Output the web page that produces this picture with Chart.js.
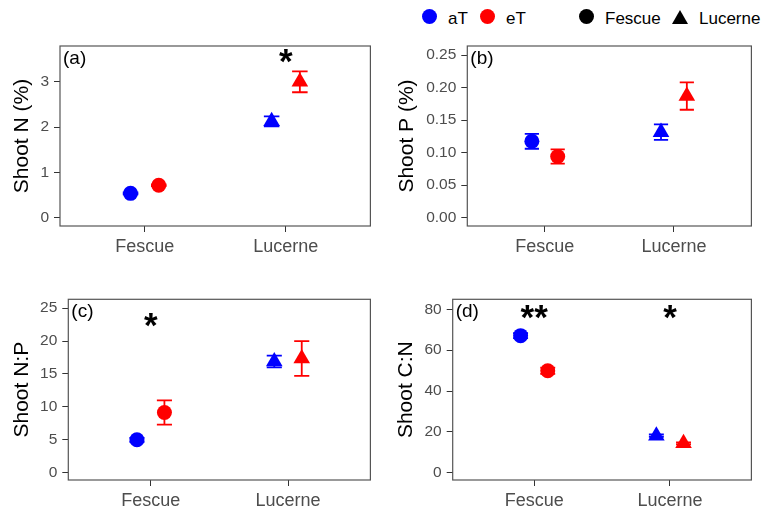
<!DOCTYPE html>
<html><head><meta charset="utf-8">
<script src="https://cdn.jsdelivr.net/npm/chart.js@4.4.1/dist/chart.umd.min.js"></script>
<style>
html,body{margin:0;padding:0;background:#fff;}
#wrap{position:relative;width:761px;height:510px;overflow:hidden;font-family:"Liberation Sans",Arial,sans-serif;}
.lg{position:absolute;font-size:17px;line-height:17px;color:#000;top:9.6px;white-space:nowrap;}
.dot{position:absolute;width:15px;height:15px;border-radius:50%;top:9.2px;}
.tri{position:absolute;width:0;height:0;border-left:8.3px solid transparent;border-right:8.3px solid transparent;border-bottom:14.5px solid #000;top:9.5px;}
</style></head>
<body>
<div id="wrap">
  <div class="dot" style="left:422px;background:#0000ff"></div><span class="lg" style="left:448px">aT</span>
  <div class="dot" style="left:480px;background:#ff0000"></div><span class="lg" style="left:506px">eT</span>
  <div class="dot" style="left:579px;background:#000"></div><span class="lg" style="left:605px">Fescue</span>
  <div class="tri" style="left:672px"></div><span class="lg" style="left:699px">Lucerne</span>
</div>
<script>
// ---------- data ----------
const categories = ['Fescue', 'Lucerne'];
const groups = ['aT', 'eT'];

const shootN_aT = [0.54, 2.13];
const shootN_eT = [0.72, 3.00];
const shootN_aT_se = [0.02, 0.11];
const shootN_eT_se = [0.02, 0.23];
const shootN_ticks = [0, 1, 2, 3];
const shootN_sig = ['', '*'];
const shootN_sigY = 3.57;

const shootP_aT = [0.1175, 0.1316];
const shootP_eT = [0.094, 0.187];
const shootP_aT_se = [0.0115, 0.012];
const shootP_eT_se = [0.011, 0.021];
const shootP_ticks = [0, 0.05, 0.10, 0.15, 0.20, 0.25];
const shootP_sig = ['', ''];
const shootP_sigY = 0.25;

const shootNP_aT = [5.0, 16.9];
const shootNP_eT = [9.15, 17.35];
const shootNP_aT_se = [0.3, 0.9];
const shootNP_eT_se = [1.85, 2.65];
const shootNP_ticks = [0, 5, 10, 15, 20, 25];
const shootNP_sig = ['*', ''];
const shootNP_sigY = 23.2;

const shootCN_aT = [67.1, 18.1];
const shootCN_eT = [49.9, 14.4];
const shootCN_aT_se = [1.2, 0.6];
const shootCN_eT_se = [1.5, 0.5];
const shootCN_ticks = [0, 20, 40, 60, 80];
const shootCN_sig = ['**', '*'];
const shootCN_sigY = 78.8;

// ---------- drawing ----------
const FONT = '"Liberation Sans", Arial, sans-serif';
const COLORS = {aT: '#0000ff', eT: '#ff0000'};
const DODGE = {aT: -0.1, eT: 0.1};

function panel(p) {
  const cv = document.createElement('canvas');
  cv.width = p.w; cv.height = p.h;
  cv.style.cssText = `position:absolute;left:${p.left}px;top:${p.top}px;width:${p.w}px;height:${p.h}px;`;
  document.getElementById('wrap').appendChild(cv);

  const mk = (g, vals, se) => ({
    label: g,
    data: vals.map((v, i) => ({x: i + 1 + DODGE[g], y: v})),
    err: se,
    pointStyle: ['circle', 'triangle'],
    pointRadius: [7.5, 9.6],
    pointBackgroundColor: COLORS[g],
    pointBorderColor: COLORS[g],
    pointBorderWidth: 0,
    borderColor: COLORS[g],
    showLine: false
  });

  const plug = {
    id: 'extras' + p.tag,
    beforeDatasetsDraw(chart) {
      const {ctx, scales: {x, y}} = chart;
      chart.data.datasets.forEach(ds => {
        ds.data.forEach((pt, i) => {
          const e = ds.err[i];
          const px = x.getPixelForValue(pt.x);
          const hw = x.getPixelForValue(pt.x + 0.055) - px;
          const y1 = y.getPixelForValue(pt.y + e), y2 = y.getPixelForValue(pt.y - e);
          ctx.save();
          ctx.strokeStyle = ds.borderColor; ctx.lineWidth = 1.8;
          ctx.beginPath();
          ctx.moveTo(px, y1); ctx.lineTo(px, y2);
          ctx.moveTo(px - hw, y1); ctx.lineTo(px + hw, y1);
          ctx.moveTo(px - hw, y2); ctx.lineTo(px + hw, y2);
          ctx.stroke();
          ctx.restore();
        });
      });
    },
    afterDatasetsDraw(chart) {
      const {ctx, chartArea: a, scales: {x, y}} = chart;
      ctx.save();
      ctx.strokeStyle = '#555'; ctx.lineWidth = 1.2;
      ctx.strokeRect(a.left, a.top, a.right - a.left, a.bottom - a.top);
      ctx.fillStyle = '#000';
      ctx.font = '19px ' + FONT;
      ctx.textAlign = 'left'; ctx.textBaseline = 'top';
      ctx.fillText(p.tag, a.left + 3, a.top + 3);
      // significance stars
      ctx.font = 'bold 35px ' + FONT;
      ctx.textAlign = 'center'; ctx.textBaseline = 'alphabetic';
      p.sig.forEach((s, i) => {
        if (!s) return;
        const m = ctx.measureText(s);
        const cx = x.getPixelForValue(i + 1), cy = y.getPixelForValue(p.sigY);
        const base = cy + (m.actualBoundingBoxAscent - m.actualBoundingBoxDescent) / 2;
        ctx.fillText(s, cx, base);
      });
      ctx.restore();
    }
  };

  const gridOpts = {drawOnChartArea: false, drawTicks: true, tickLength: 6, color: '#333', lineWidth: 1};
  new Chart(cv, {
    type: 'scatter',
    data: {datasets: [mk('aT', p.aT, p.aTse), mk('eT', p.eT, p.eTse)]},
    options: {
      responsive: false, animation: false, devicePixelRatio: 1, events: [],
      layout: {padding: {top: p.padTop, right: p.padRight, left: 0, bottom: 0}},
      plugins: {legend: {display: false}, tooltip: {enabled: false}},
      scales: {
        x: {
          type: 'linear', min: 0.4, max: 2.6,
          afterBuildTicks: s => { s.ticks = categories.map((c, i) => ({value: i + 1})); },
          afterFit: s => { s.height = p.xh; },
          ticks: {callback: v => categories[Math.round(v) - 1], font: {size: 18, family: FONT}, color: '#4d4d4d', padding: 4, maxRotation: 0, autoSkip: false},
          grid: gridOpts, border: {display: false}
        },
        y: {
          min: p.ymin, max: p.ymax,
          afterBuildTicks: s => { s.ticks = p.ticks.map(v => ({value: v})); },
          afterFit: s => { s.width = p.yw; },
          ticks: {callback: v => p.fmt(v), font: {size: 15.5, family: FONT}, color: '#4d4d4d', padding: 5, autoSkip: false},
          grid: gridOpts, border: {display: false},
          title: {display: true, text: p.title, font: {size: 21, family: FONT}, color: '#000', padding: {top: p.titlePad, bottom: 0}}
        }
      }
    },
    plugins: [plug]
  });
}

const intFmt = v => String(Math.round(v));
panel({tag: '(a)', left: 0, top: 30, w: 380, h: 230, padTop: 16, padRight: 2, xh: 34, yw: 60,
  aT: shootN_aT, eT: shootN_eT, aTse: shootN_aT_se, eTse: shootN_eT_se, ticks: shootN_ticks,
  ymin: -0.18, ymax: 3.79, fmt: intFmt, title: 'Shoot N (%)', titlePad: 10, sig: shootN_sig, sigY: shootN_sigY});
panel({tag: '(b)', left: 380, top: 30, w: 381, h: 230, padTop: 16, padRight: 2.7, xh: 34, yw: 87.3,
  aT: shootP_aT, eT: shootP_eT, aTse: shootP_aT_se, eTse: shootP_eT_se, ticks: shootP_ticks,
  ymin: -0.0128, ymax: 0.264, fmt: v => v.toFixed(2), title: 'Shoot P (%)', titlePad: 15, sig: shootP_sig, sigY: shootP_sigY});
panel({tag: '(c)', left: 0, top: 280, w: 380, h: 230, padTop: 19.3, padRight: 2, xh: 30, yw: 68.3,
  aT: shootNP_aT, eT: shootNP_eT, aTse: shootNP_aT_se, eTse: shootNP_eT_se, ticks: shootNP_ticks,
  ymin: -1.11, ymax: 26.35, fmt: intFmt, title: 'Shoot N:P', titlePad: 10, sig: shootNP_sig, sigY: shootNP_sigY});
panel({tag: '(d)', left: 380, top: 280, w: 381, h: 230, padTop: 19.3, padRight: 3, xh: 30, yw: 72.7,
  aT: shootCN_aT, eT: shootCN_eT, aTse: shootCN_aT_se, eTse: shootCN_eT_se, ticks: shootCN_ticks,
  ymin: -3.57, ymax: 84.9, fmt: intFmt, title: 'Shoot C:N', titlePad: 13.5, sig: shootCN_sig, sigY: shootCN_sigY});
</script>
</body></html>
